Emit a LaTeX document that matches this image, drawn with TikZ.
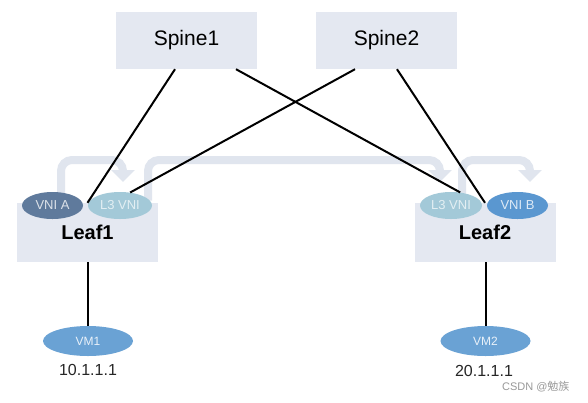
\documentclass[tikz,border=0pt]{standalone}
\usepackage{fontspec}
\setmainfont{Liberation Sans}
\newfontfamily\cjk{Noto Sans CJK SC}
\usetikzlibrary{shapes.geometric,arrows.meta,calc}
\definecolor{boxfill}{HTML}{E4E8F1}
\definecolor{flowc}{HTML}{E0E5EE}
\definecolor{vnia}{HTML}{5F7A9C}
\definecolor{lthree}{HTML}{A3C9D8}
\definecolor{vnib}{HTML}{5A97D0}
\definecolor{vmc}{HTML}{6AA2D4}
\begin{document}
\begin{tikzpicture}[x=1pt,y=-1pt,
  devbox/.style={rectangle,fill=boxfill,inner sep=0pt,font=\fontsize{21}{24}\selectfont},
  leafbox/.style={rectangle,fill=boxfill,inner sep=0pt,minimum width=141pt,minimum height=59pt,font=\bfseries\fontsize{20}{24}\selectfont},
  vni/.style={ellipse,inner sep=0pt,minimum width=62pt,minimum height=27pt,font=\fontsize{13}{15}\selectfont},
  vmnode/.style={ellipse,fill=vmc,inner sep=0pt,minimum width=90pt,minimum height=30pt,text=white!85!vmc,font=\fontsize{12}{14}\selectfont},
  link/.style={line width=2pt,black},
  flow/.style={line width=8pt,flowc,rounded corners=11pt,-{Triangle[width=23pt,length=12pt]}},
  iptext/.style={font=\fontsize{16}{18}\selectfont,text=black!85}
]
\useasboundingbox (0,0) rectangle (588,402);
\fill[white] (0,0) rectangle (588,402);
% spines
\node[devbox,minimum width=141pt,minimum height=57pt] (s1) at (186.5,40.5) {Spine1};
\node[devbox,minimum width=141pt,minimum height=57pt] (s2) at (386.5,40.5) {Spine2};
% leaves
\node[leafbox] (leaf1) at (87.5,232.5) {Leaf1};
\node[leafbox] (leaf2) at (485,232.5) {Leaf2};
% vni ellipse positions (coordinates first, for flows)
\coordinate (ca) at (52.5,205.5);
\coordinate (cb) at (120,205.5);
\coordinate (cc) at (451,205.5);
\coordinate (cd) at (517.5,205.5);
% flows
\draw[flow] ($(ca)+(8.5,-5)$) -- ($(ca)+(8.5,-45.5)$) -- ($(cb)+(3,-45.5)$) -- ($(cb)+(3,-23.5)$);
\draw[flow] ($(cb)+(28,-5)$) -- ($(cb)+(28,-45.5)$) -- ($(cc)+(-11,-45.5)$) -- ($(cc)+(-11,-23.5)$);
\draw[flow] ($(cc)+(11,-5)$) -- ($(cc)+(11,-45.5)$) -- ($(cd)+(12.5,-45.5)$) -- ($(cd)+(12.5,-23.5)$);
% vni ellipses
\node[vni,fill=vnia,minimum width=61pt,text=white!78!vnia] (va) at (ca) {VNI A};
\node[vni,fill=lthree,minimum width=64pt,text=white!70!lthree] (l3a) at (cb) {L3 VNI};
\node[vni,fill=lthree,text=white!70!lthree] (l3b) at (cc) {L3 VNI};
\node[vni,fill=vnib,minimum width=61pt,text=white!80!vnib] (vb) at (cd) {VNI B};
% links spine-leaf
\draw[link] ($(s1.south)+(-11.5,0)$) -- (leaf1.north);
\draw[link] ($(s1.south)+(49.5,0)$) -- (l3b.55);
\draw[link] ($(s2.south)+(-31.5,0)$) -- (l3a.52);
\draw[link] ($(s2.south)+(10.5,0)$) -- (leaf2.north);
% vms
\node[vmnode] (vm1) at (88,341) {VM1};
\node[vmnode] (vm2) at (485.5,341) {VM2};
\draw[link] (leaf1.south -| vm1.north) -- (vm1.north);
\draw[link] (leaf2.south -| vm2.north) -- (vm2.north);
\node[iptext] (ip1) at (88,370) {10.1.1.1};
\node[iptext] (ip2) at (484,371) {20.1.1.1};
\node[font=\fontsize{11}{13}\selectfont,text=black!40,anchor=east] (wm) at (573,387) {CSDN @{\cjk 勉族}};
\end{tikzpicture}
\end{document}
